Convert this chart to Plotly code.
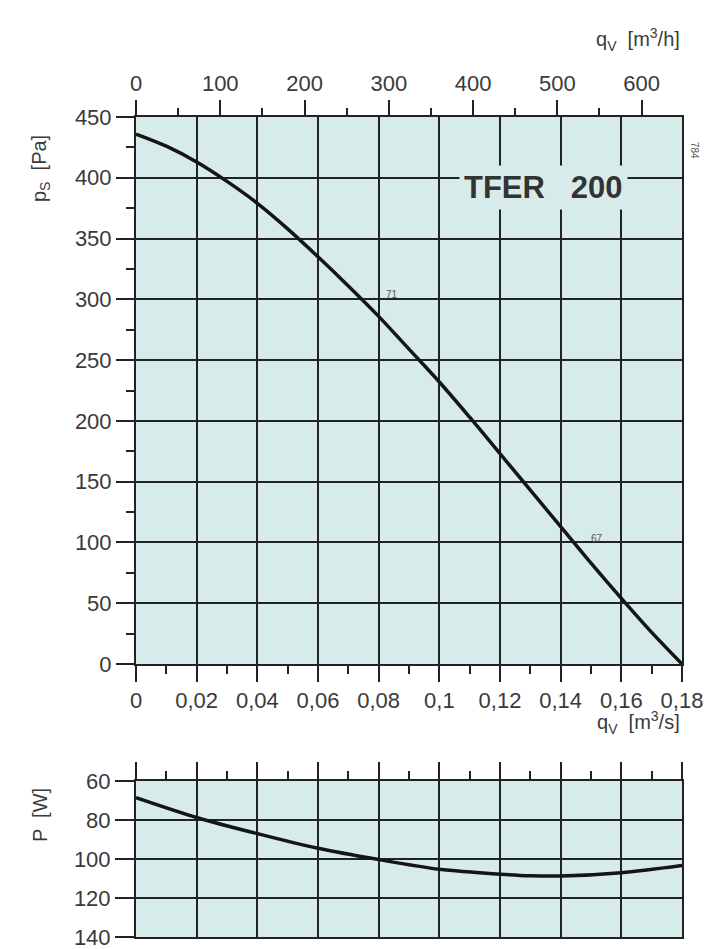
import plotly.graph_objects as go

# ---- data ----
q_ps = [0, 0.01, 0.02, 0.03, 0.04, 0.05, 0.06, 0.07, 0.08, 0.09, 0.10,
        0.11, 0.12, 0.13, 0.14, 0.15, 0.16, 0.17, 0.18]
ps_vals = [436, 426, 413, 397, 379, 358, 335, 311, 286, 259, 232,
           203, 173, 143, 113, 83, 54, 26, 0]

q_p = [0, 0.02, 0.04, 0.06, 0.08, 0.10, 0.12, 0.13, 0.14, 0.16, 0.18]
p_vals = [68.5, 78.7, 87, 94.5, 100.3, 105.3, 107.8, 108.6, 108.7, 107, 103.3]

x_ticks = [0, 0.02, 0.04, 0.06, 0.08, 0.10, 0.12, 0.14, 0.16, 0.18]
x_ticklabels = ["0", "0,02", "0,04", "0,06", "0,08", "0,1", "0,12", "0,14", "0,16", "0,18"]

BG = "#d7ecea"
GRID = "#222222"
TXT = "#3a3a3a"
FONT = "Liberation Sans"

fig = go.Figure()
fig.add_trace(go.Scatter(x=q_ps, y=ps_vals, mode="lines",
                         line=dict(color="#151515", width=3.5, shape="spline", smoothing=1.0),
                         xaxis="x", yaxis="y", showlegend=False, hoverinfo="skip"))
fig.add_trace(go.Scatter(x=[0, 648], y=[None, None], mode="lines", xaxis="x2", yaxis="y",
                         showlegend=False, hoverinfo="skip"))
fig.add_trace(go.Scatter(x=q_p, y=p_vals, mode="lines",
                         line=dict(color="#151515", width=3.5, shape="spline", smoothing=0.8),
                         xaxis="x3", yaxis="y2", showlegend=False, hoverinfo="skip"))

W, H = 723, 949
L, R, T, B = 136, 41, 117, 12
ph = H - T - B
pw = W - L - R


def px(X):
    return (X - L) / pw


def py(Y):
    return (H - B - Y) / ph


main_bottom = py(664)
low_top = py(781)

tickfont = dict(family=FONT, size=22, color=TXT)
common = dict(showline=True, linecolor=GRID, linewidth=2, mirror=True, zeroline=False, automargin=False,
              ticklabeloverflow="allow",
              gridcolor=GRID, gridwidth=2, tickcolor=GRID, tickwidth=2, tickfont=tickfont)
minor_style = dict(ticks="outside", ticklen=8, tickcolor=GRID, tickwidth=2, showgrid=False)

fig.update_layout(
    width=W, height=H,
    margin=dict(l=L, r=R, t=T, b=B, autoexpand=False),
    paper_bgcolor="white", plot_bgcolor=BG,
    xaxis=dict(domain=[0, 1], anchor="y", range=[0, 0.18], tickmode="array", tickvals=x_ticks,
               ticktext=x_ticklabels, ticks="outside", ticklen=16, showgrid=True,
               minor=dict(dtick=0.01, tick0=0, **minor_style), **common),
    xaxis2=dict(overlaying="x", side="top", anchor="y", range=[0, 648], tickmode="linear", tick0=0, dtick=100,
                ticks="outside", ticklen=16, showgrid=False, automargin=False, ticklabeloverflow="allow",
                minor=dict(dtick=50, tick0=0, **minor_style),
                showline=False, zeroline=False, tickcolor=GRID, tickwidth=2, tickfont=tickfont),
    yaxis=dict(domain=[main_bottom, 1], anchor="x", range=[0, 450], tickmode="linear", tick0=0, dtick=50,
               ticks="outside", ticklen=18, showgrid=True,
               minor=dict(dtick=25, tick0=0, **minor_style), **common),
    xaxis3=dict(domain=[0, 1], anchor="y2", side="top", range=[0, 0.18], tickmode="array", tickvals=x_ticks,
                showticklabels=False, ticks="outside", ticklen=17, showgrid=True,
                minor=dict(dtick=0.01, tick0=0, **minor_style), **common),
    yaxis2=dict(domain=[0, low_top], anchor="x3", range=[140, 60], tickmode="linear", tick0=60, dtick=20,
                ticks="outside", ticklen=19, showgrid=True, **common),
)

ann_font = dict(family=FONT, size=20, color=TXT)
fig.add_annotation(text="q<sub>V</sub>  [m<sup>3</sup>/h]", xref="paper", yref="paper", x=1.0, y=py(40),
                   xanchor="right", yanchor="middle", showarrow=False, font=ann_font)
fig.add_annotation(text="q<sub>V</sub>  [m<sup>3</sup>/s]", xref="paper", yref="paper", x=1.0, y=py(722),
                   xanchor="right", yanchor="middle", showarrow=False, font=ann_font)
fig.add_annotation(text="p<sub>S</sub>  [Pa]", xref="paper", yref="paper", x=px(40), y=py(168),
                   textangle=-90, xanchor="center", yanchor="middle", showarrow=False, font=ann_font)
fig.add_annotation(text="P  [W]", xref="paper", yref="paper", x=px(40), y=py(815),
                   textangle=-90, xanchor="center", yanchor="middle", showarrow=False, font=ann_font)
fig.add_annotation(text="<b>TFER   200</b>", xref="x", yref="y", x=0.1345, y=392,
                   showarrow=False, font=dict(family=FONT, size=31, color="#333333"), bgcolor=BG, borderpad=4)
fig.add_annotation(text="784", xref="paper", yref="paper", x=px(702), y=py(140),
                   textangle=90, showarrow=False, font=dict(family=FONT, size=10, color="#555555"))
fig.add_annotation(text="71", xref="x", yref="y", x=0.0845, y=304, showarrow=False,
                   font=dict(family=FONT, size=10, color="#555555"))
fig.add_annotation(text="67", xref="x", yref="y", x=0.152, y=103, showarrow=False,
                   font=dict(family=FONT, size=10, color="#555555"))

fig.write_html("out.html", config={"displayModeBar": False},
               post_script="document.body.style.margin='0';")
